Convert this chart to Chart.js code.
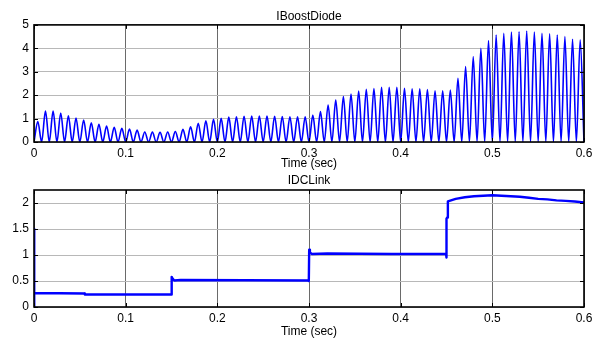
<!DOCTYPE html>
<html>
<head>
<meta charset="utf-8">
<script src="https://cdn.jsdelivr.net/npm/chart.js@4/dist/chart.umd.min.js"></script>
<style>
	html, body { margin:0; padding:0; background:#fff; }
	#wrapper-app { position:relative; width:599px; height:338px; }
	canvas { position:absolute; left:0; }
	#chart-1 { top:0; }
	#chart-2 { top:170px; }
</style>
</head>
<body>
<div id="wrapper-app">
	<canvas id="chart-1" width="599" height="170"></canvas>
	<canvas id="chart-2" width="599" height="168"></canvas>
</div>
<script>
// x axis ticks, both plots
var timeTicks = [0, 0.1, 0.2, 0.3, 0.4, 0.5, 0.6];

// IBoostDiode: peak of each 120 Hz ripple cycle (troughs sit at 0)
var boostPeriod = 1 / 120;
var boostPeaks = [
	0.87, 1.32, 1.32, 1.24, 1.12, 1.02, 0.94, 0.82, 0.76, 0.68, 0.63, 0.58,
	0.55, 0.51, 0.43, 0.42, 0.41, 0.43, 0.45, 0.54, 0.65, 0.80, 0.90, 0.97,
	1.01, 1.06, 1.08, 1.10, 1.11, 1.11, 1.11, 1.10, 1.09, 1.08, 1.08, 1.08,
	1.15, 1.30, 1.58, 1.79, 1.94, 2.05, 2.18, 2.25, 2.28, 2.34, 2.34, 2.34,
	2.29, 2.27, 2.27, 2.24, 2.19, 2.19, 2.22, 2.72, 3.22, 3.65, 4.00, 4.33,
	4.57, 4.64, 4.69, 4.71, 4.74, 4.69, 4.64, 4.62, 4.57, 4.50, 4.39, 4.36
];
var boostTicks = [0, 1, 2, 3, 4, 5];

// IDCLink
var dcTime = [0, 0, 0.0005, 0.055, 0.0555, 0.1498, 0.1502, 0.151, 0.153, 0.16, 0.2995, 0.2998, 0.3002, 0.301, 0.303, 0.32,
	0.39, 0.40, 0.4495, 0.4498, 0.4502, 0.4508, 0.4515, 0.46, 0.47, 0.48, 0.49, 0.50, 0.51, 0.52, 0.53, 0.54,
	0.55, 0.56, 0.57, 0.58, 0.59, 0.60];
var dcValue = [0, 1.5, 0.27, 0.26, 0.24, 0.24, 0.58, 0.55, 0.51, 0.52, 0.51, 0.50, 1.10, 1.05, 1.02, 1.03,
	1.02, 1.02, 1.02, 0.95, 1.70, 1.72, 2.03, 2.08, 2.11, 2.13, 2.14, 2.15, 2.14, 2.13, 2.12, 2.10,
	2.08, 2.07, 2.05, 2.04, 2.03, 2.01];
var dcTicks = [0, 0.5, 1, 1.5, 2];

var app = (function(){
	var 
		charts = [undefined, undefined]
		,fontFamily = "'Liberation Sans', Arial, sans-serif";

	// matlab style box with inward tick marks
	var boxPlugin = {
		id: 'box',
		afterDraw: function(chart){
			var ctx = chart.ctx, a = chart.chartArea, xs = chart.scales.x, ys = chart.scales.y;
			ctx.save();
			ctx.strokeStyle = '#000';
			ctx.lineWidth = 1;
			ctx.beginPath();
			xs.ticks.forEach(function(t){
				var px = Math.round(xs.getPixelForValue(t.value)) + 0.5;
				ctx.moveTo(px, a.bottom); ctx.lineTo(px, a.bottom - 4);
				ctx.moveTo(px, a.top); ctx.lineTo(px, a.top + 4);
			});
			ys.ticks.forEach(function(t){
				var py = Math.round(ys.getPixelForValue(t.value)) + 0.5;
				ctx.moveTo(a.left, py); ctx.lineTo(a.left + 4, py);
				ctx.moveTo(a.right, py); ctx.lineTo(a.right - 4, py);
			});
			ctx.stroke();
			ctx.lineWidth = 1.6;
			ctx.strokeRect(a.left, a.top, a.right - a.left, a.bottom - a.top);
			ctx.restore();
		}
	};

	function init(){
		Chart.defaults.font.family = fontFamily;
		Chart.defaults.font.size = 12;
		Chart.defaults.color = '#000';
		_createCharts();
	}

	function _createCharts(){
		_createChart1();
		_createChart2();
	}

	function _options(title, yTicks, yMax, xHeight, titlePad){
		return {
			responsive: false,
			animation: false,
			layout: { padding: { left: 0, right: 15, top: titlePad.top, bottom: 0 } },
			plugins: {
				legend: { display: false },
				tooltip: { enabled: false },
				title: {
					display: true,
					fullSize: false,
					text: title,
					font: { size: 12, weight: 'normal' },
					padding: { top: 0, bottom: titlePad.bottom }
				}
			},
			elements: { point: { radius: 0 } },
			scales: {
				x: {
					type: 'linear',
					min: 0,
					max: 0.6,
					afterBuildTicks: function(scale){
						scale.ticks = timeTicks.map(function(v){ return { value: v }; });
					},
					afterFit: function(scale){ scale.height = xHeight; },
					ticks: { padding: 4, maxRotation: 0, callback: function(v){ return String(v); } },
					grid: { color: '#6a6a6a', lineWidth: 1, drawTicks: false },
					border: { display: false },
					title: {
						display: true,
						text: 'Time (sec)',
						font: { size: 12, lineHeight: 1 },
						padding: { top: 0, bottom: 0 }
					}
				},
				y: {
					type: 'linear',
					min: 0,
					max: yMax,
					afterBuildTicks: function(scale){
						scale.ticks = yTicks.map(function(v){ return { value: v }; });
					},
					afterFit: function(scale){ scale.width = 34; },
					ticks: { padding: 5, callback: function(v){ return String(v); } },
					grid: { color: '#b8b8b8', lineWidth: 1, drawTicks: false },
					border: { display: false }
				}
			}
		};
	}

	function _createChart1(){
		var index = 0;
		if(charts[index] !== undefined){
			charts[index].destroy();
		}
		var points = [];
		boostPeaks.forEach(function(p, k){
			points.push({ x: k * boostPeriod, y: 0 });
			points.push({ x: (k + 0.5) * boostPeriod, y: p });
		});
		points.push({ x: boostPeaks.length * boostPeriod, y: 0 });
		var ctx = document.getElementById('chart-1');
		charts[index] = new Chart(ctx, {
			type: 'line',
			data: {
				datasets: [{
					data: points,
					borderColor: '#0000ff',
					borderWidth: 1.6,
					cubicInterpolationMode: 'monotone',
					fill: false
				}]
			},
			options: _options('IBoostDiode', boostTicks, 5, 28, { top: 9, bottom: 1.5 }),
			plugins: [boxPlugin]
		});
	}

	function _createChart2(){
		var index = 1;
		if(charts[index] !== undefined){
			charts[index].destroy();
		}
		var points = dcTime.map(function(t, i){ return { x: t, y: dcValue[i] }; });
		var ctx = document.getElementById('chart-2');
		charts[index] = new Chart(ctx, {
			type: 'line',
			data: {
				datasets: [{
					data: points,
					borderColor: '#0000ff',
					borderWidth: 2.4,
					borderJoinStyle: 'round',
					tension: 0,
					fill: false
				}]
			},
			options: _options('IDCLink', dcTicks, 2.25, 31, { top: 3, bottom: 2.6 }),
			plugins: [boxPlugin]
		});
	}

	return {
		init: init
	};
})();

app.init();
</script>
</body>
</html>
